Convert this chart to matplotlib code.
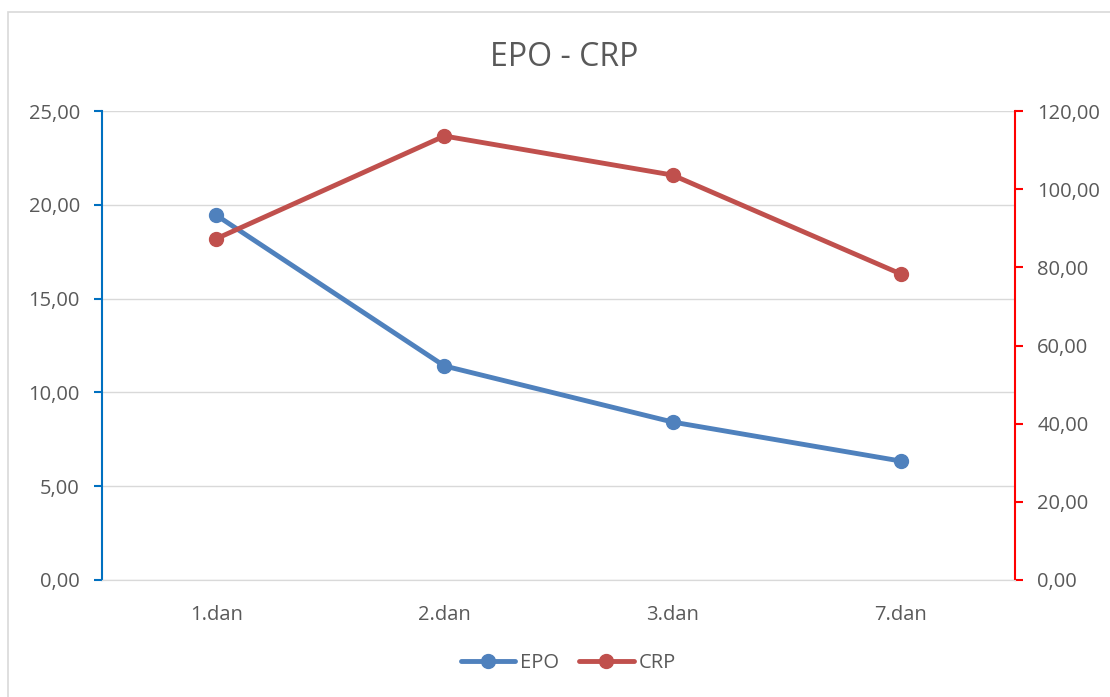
import matplotlib
matplotlib.use("Agg")
import matplotlib.pyplot as plt
from matplotlib.ticker import FuncFormatter
from matplotlib.patches import Rectangle

plt.rcParams['font.family'] = ['Open Sans', 'DejaVu Sans']

# === data ===
days = ["1.dan", "2.dan", "3.dan", "7.dan"]
epo = [19.45, 11.41, 8.42, 6.34]
crp = [87.3, 113.6, 103.6, 78.3]

blue = "#4F81BD"
red = "#C0504D"
txt = "#595959"

comma = FuncFormatter(lambda v, p: f"{v:.2f}".replace(".", ","))

fig = plt.figure(figsize=(11.1, 6.97), dpi=100)
fig.patches.append(Rectangle((8 / 1110, -0.01), 1.1, 1 - 12 / 697 + 0.01,
                             transform=fig.transFigure, fill=False,
                             edgecolor="#D9D9D9", linewidth=1.2))

ax = fig.add_axes([102 / 1110, 1 - 580 / 697, (1015 - 102) / 1110, (580 - 111) / 697])
ax2 = ax.twinx()

x = range(len(days))
l1, = ax.plot(x, epo, color=blue, lw=3.5, marker="o", ms=10, label="EPO",
              solid_capstyle="round", zorder=3)
l2, = ax2.plot(x, crp, color=red, lw=3.5, marker="o", ms=10, label="CRP",
               solid_capstyle="round", zorder=3)

ax.set_xlim(-0.5, 3.5)
ax.set_ylim(0, 25)
ax.set_yticks([0, 5, 10, 15, 20, 25])
ax2.set_ylim(0, 120)
ax2.set_yticks([0, 20, 40, 60, 80, 100, 120])
ax.yaxis.set_major_formatter(comma)
ax2.yaxis.set_major_formatter(comma)
ax.set_xticks(list(x))
ax.set_xticklabels(days)

ax.grid(axis="y", color="#D9D9D9", lw=1)
ax.set_axisbelow(True)

for a in (ax, ax2):
    a.spines["top"].set_visible(False)
    a.spines["bottom"].set_color("#D9D9D9")
    a.spines["left"].set_visible(False)
    a.spines["right"].set_visible(False)
ax.spines["left"].set_visible(True)
ax.spines["left"].set_color("#0070C0")
ax.spines["left"].set_linewidth(1.5)
ax2.spines["right"].set_visible(True)
ax2.spines["right"].set_color("#FF0000")
ax2.spines["right"].set_linewidth(1.5)

ax.tick_params(axis="y", colors="#0070C0", labelcolor=txt, labelsize=14.5,
               length=6, width=1.5, pad=10)
ax2.tick_params(axis="y", colors="#FF0000", labelcolor=txt, labelsize=14.5,
                length=6, width=1.5, pad=10)
ax.tick_params(axis="x", length=0, labelcolor=txt, labelsize=14.5, pad=18)

fig.text(0.508, 1 - 58 / 697, "EPO - CRP", ha="center", va="center",
         fontsize=23, color=txt)

fig.legend(handles=[l1, l2], loc="center", bbox_to_anchor=(0.512, 1 - 663 / 697),
           ncol=2, frameon=False, fontsize=14.5, labelcolor=txt,
           handlelength=2.7, handletextpad=0.25, columnspacing=1.0)

plt.savefig("out.png", dpi=100)
